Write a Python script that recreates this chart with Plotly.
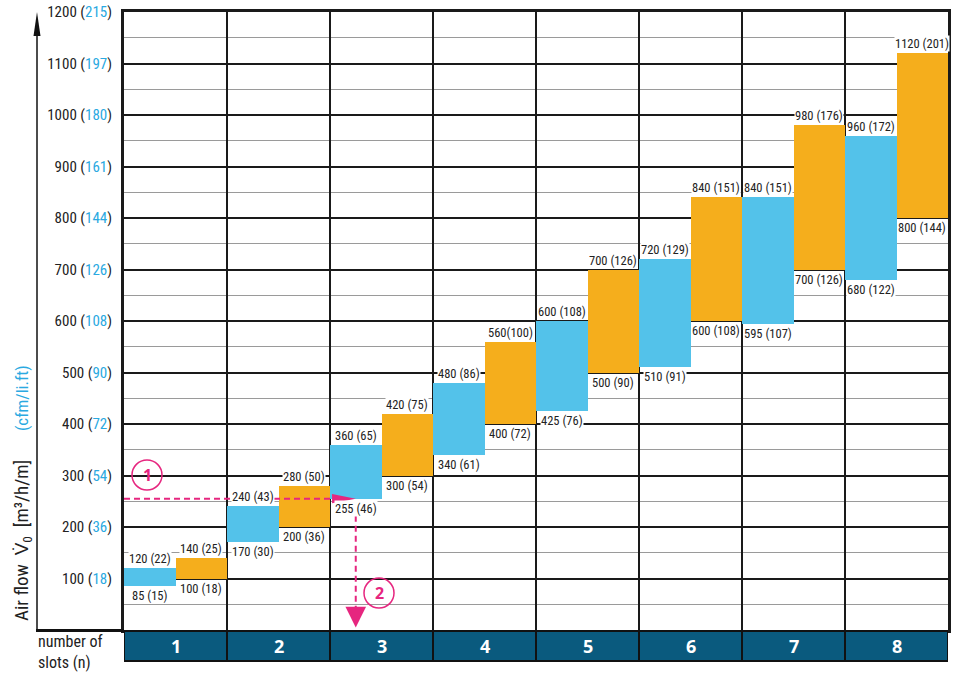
import plotly.graph_objects as go

# ---------------- data ----------------
slots = [1, 2, 3, 4, 5, 6, 7, 8]
blue_lo = [85, 170, 255, 340, 425, 510, 595, 680]
blue_hi = [120, 240, 360, 480, 600, 720, 840, 960]
orange_lo = [100, 200, 300, 400, 500, 600, 700, 800]
orange_hi = [140, 280, 420, 560, 700, 840, 980, 1120]
blue_lo_lbl = ["85 (15)", "170 (30)", "255 (46)", "340 (61)", "425 (76)", "510 (91)", "595 (107)", "680 (122)"]
blue_hi_lbl = ["120 (22)", "240 (43)", "360 (65)", "480 (86)", "600 (108)", "720 (129)", "840 (151)", "960 (172)"]
orange_lo_lbl = ["100 (18)", "200 (36)", "300 (54)", "400 (72)", "500 (90)", "600 (108)", "700 (126)", "800 (144)"]
orange_hi_lbl = ["140 (25)", "280 (50)", "420 (75)", "560(100)", "700 (126)", "840 (151)", "980 (176)", "1120 (201)"]
y_ticks = [100, 200, 300, 400, 500, 600, 700, 800, 900, 1000, 1100, 1200]
y_cfm = [18, 36, 54, 72, 90, 108, 126, 144, 161, 180, 197, 215]
example_flow = 255   # m3/h/m read-off example

BLUE = "#53c2ea"
ORANGE = "#f5ae1c"
BAND = "#0a5a7e"
PINK = "#e6267f"
TXTBLUE = "#2aa9e1"
FONT = "Liberation Sans Narrow, Roboto Condensed, Arial Narrow, Roboto, sans-serif"

# plot area in window pixels
FW, FH = 956, 673
L, R, T, B = 124, 948, 12, 630
W, H = R - L, B - T
def px(x):
    return (x - L) / W
def py(y):
    return (B - y) / H

fig = go.Figure()
bx = [s - 0.75 for s in slots]
ox = [s - 0.25 for s in slots]
fig.add_trace(go.Bar(x=bx, base=blue_lo, y=[h - l for h, l in zip(blue_hi, blue_lo)],
                     width=0.5, marker=dict(color=BLUE, line=dict(width=0)), hoverinfo="skip"))
fig.add_trace(go.Bar(x=ox, base=orange_lo, y=[h - l for h, l in zip(orange_hi, orange_lo)],
                     width=0.5, marker=dict(color=ORANGE, line=dict(width=0)), hoverinfo="skip"))

ann = []
lab_font = dict(family=FONT, size=12.5, color="#222")
for xs, los, his, lol, hil in [(bx, blue_lo, blue_hi, blue_lo_lbl, blue_hi_lbl),
                               (ox, orange_lo, orange_hi, orange_lo_lbl, orange_hi_lbl)]:
    for x, lo, hi, a, b in zip(xs, los, his, lol, hil):
        ann.append(dict(x=x, y=hi, xref="x", yref="y", text=b, showarrow=False, xanchor="center",
                        yanchor="bottom", yshift=1, bgcolor="white", borderpad=0, font=lab_font))
        ann.append(dict(x=x, y=lo, xref="x", yref="y", text=a, showarrow=False, xanchor="center",
                        yanchor="top", yshift=-1, bgcolor="white", borderpad=0, font=lab_font))

# slot numbers in band
for s in slots:
    ann.append(dict(x=s - 0.5, y=py(646), xref="x", yref="paper", text="<b>%d</b>" % s,
                    xanchor="center", yanchor="middle", showarrow=False,
                    font=dict(family="Open Sans, sans-serif", size=18, color="white")))

ann.append(dict(x=px(36), y=py(652), xref="paper", yref="paper", xanchor="left", yanchor="middle",
                text="number of<br>slots (n)", showarrow=False, align="left",
                font=dict(family=FONT, size=16, color="#222")))

# axis titles (rotated)
ann.append(dict(x=px(22), y=py(541), xref="paper", yref="paper", textangle=-90, showarrow=False,
                xanchor="center", yanchor="middle",
                text="Air flow  V\u0307<sub>0</sub>  [m\u00b3/h/m]", font=dict(family=FONT, size=19, color="#222")))
ann.append(dict(x=px(22), y=py(398), xref="paper", yref="paper", textangle=-90, showarrow=False,
                xanchor="center", yanchor="middle",
                text="(cfm/li.ft)", font=dict(family=FONT, size=17, color=TXTBLUE)))

# circled numbers
for n, cx, cy in [(1, 147, 475), (2, 379, 593)]:
    ann.append(dict(x=px(cx), y=py(cy), xref="paper", yref="paper", text="<b>%d</b>" % n, showarrow=False,
                    xanchor="center", yanchor="middle",
                    font=dict(family="Open Sans, sans-serif", size=16, color=PINK)))

shapes = []
# bottom band
shapes.append(dict(type="rect", xref="x", yref="paper", x0=0, x1=8, y0=py(661), y1=py(631),
                   fillcolor=BAND, line=dict(color="#111", width=2), layer="above"))
for s in slots[:-1]:
    shapes.append(dict(type="line", xref="x", yref="paper", x0=s, x1=s, y0=py(661), y1=py(631),
                       line=dict(color="#111", width=2)))
# left arrow axis
shapes.append(dict(type="line", xref="paper", yref="paper", x0=px(37), x1=px(37), y0=py(630), y1=py(30),
                   line=dict(color="#111", width=1.5)))
shapes.append(dict(type="path", xref="paper", yref="paper",
                   path="M %f,%f L %f,%f L %f,%f Z" % (px(33.5), py(36), px(37), py(12), px(40.5), py(36)),
                   fillcolor="#111", line=dict(width=0)))
shapes.append(dict(type="line", xref="paper", yref="paper", x0=px(36), x1=px(124), y0=py(630.5), y1=py(630.5),
                   line=dict(color="#111", width=3)))
# circles
for cx, cy in [(147, 475), (379, 593)]:
    shapes.append(dict(type="circle", xref="paper", yref="paper", x0=px(cx - 15), x1=px(cx + 15),
                       y0=py(cy + 15), y1=py(cy - 15), line=dict(color=PINK, width=1.5)))
# example read-off: horizontal dashed then down
ex_x = bx[2]
shapes.append(dict(type="line", xref="x", yref="y", x0=0, x1=ex_x - 0.22, y0=example_flow, y1=example_flow,
                   line=dict(color=PINK, width=2, dash="6px,4px")))
shapes.append(dict(type="path", xref="x", yref="y",
                   path="M %f,%f L %f,%f L %f,%f Z" % (ex_x - 0.23, example_flow + 9, ex_x, example_flow,
                                                       ex_x - 0.23, example_flow - 9),
                   fillcolor=PINK, line=dict(width=0), layer="above"))
shapes.append(dict(type="line", xref="x", yref="y", x0=ex_x, x1=ex_x, y0=222, y1=40,
                   line=dict(color=PINK, width=2, dash="6px,4px")))
shapes.append(dict(type="path", xref="x", yref="y",
                   path="M %f,%f L %f,%f L %f,%f Z" % (ex_x - 0.1, 45, ex_x, 5, ex_x + 0.1, 45),
                   fillcolor=PINK, line=dict(width=0), layer="above"))

ticktext = ["%d (<span style='color:%s'>%d</span>)" % (v, TXTBLUE, c) for v, c in zip(y_ticks, y_cfm)]

fig.update_layout(
    width=FW, height=FH,
    margin=dict(l=L, r=FW - R, t=T, b=FH - B, pad=0, autoexpand=False),
    paper_bgcolor="white", plot_bgcolor="white",
    barmode="overlay", showlegend=False, bargap=0,
    annotations=ann, shapes=shapes,
    font=dict(family=FONT, color="#222"),
    xaxis=dict(range=[0, 8], tick0=0, dtick=1, showgrid=True, gridcolor="#1a1a1a", gridwidth=2,
               showticklabels=False, ticks="", zeroline=False, automargin=False,
               showline=True, linecolor="#1a1a1a", linewidth=3, mirror=True),
    yaxis=dict(range=[0, 1200], tickvals=y_ticks, ticktext=ticktext, showgrid=True,
               gridcolor="#1a1a1a", gridwidth=2, ticks="", ticklabelstandoff=6,
               ticklabeloverflow="allow",
               tickfont=dict(family=FONT, size=15, color="#222"), zeroline=False, automargin=False,
               showline=True, linecolor="#1a1a1a", linewidth=3, mirror=True,
               minor=dict(dtick=50, tick0=0, showgrid=True, gridcolor="#9a9a9a", gridwidth=1)),
)

fig.write_html("out.html", config={"displayModeBar": False},
               post_script="document.body.style.margin='0';document.body.style.overflow='hidden';")
